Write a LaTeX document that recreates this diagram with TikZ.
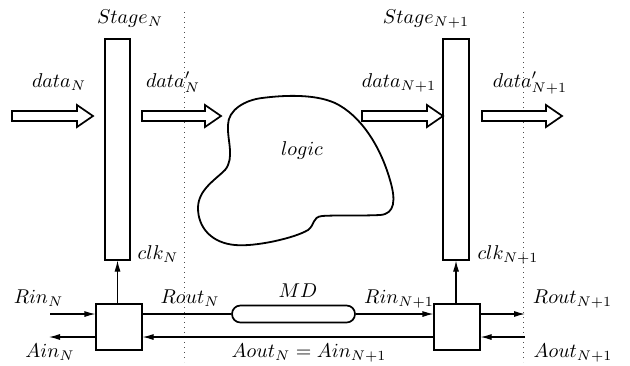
\documentclass[tikz,border=0pt]{standalone}
\usetikzlibrary{arrows.meta}
\tikzset{
  box/.style={draw, line width=0.55pt, inner sep=0pt, minimum width=#1},
  ctl/.style={draw, line width=0.55pt, inner sep=0pt, minimum width=23pt, minimum height=23pt},
  conn/.style={line width=0.55pt, -{Latex[length=5.5pt,width=3pt]}},
  plainconn/.style={line width=0.55pt},
  lbl/.style={inner sep=0pt, anchor=base},
  sep/.style={dotted, line width=0.5pt, black!70},
  barrow/.style={draw, line width=0.85pt, line join=miter, fill=white},
  blob/.style={draw, line width=0.9pt},
}
\newcommand\blockarr[3]{% x1, x2, y
  \draw[barrow] (#1,#3-5) -- (#2-16,#3-5) -- (#2-16,#3-11) -- (#2,#3) -- (#2-16,#3+11) -- (#2-16,#3+5) -- (#1,#3+5) -- cycle;}
\begin{document}
\begin{tikzpicture}[x=0.5pt,y=-0.5pt]
\useasboundingbox (0,0) rectangle (630,365);

% separators
\coordinate (s1t) at (184,12); \coordinate (s1b) at (184,362);
\coordinate (s2t) at (523,12); \coordinate (s2b) at (523,362);
\draw[sep] (s1t) -- (s1b);
\draw[sep] (s2t) -- (s2b);

% stage registers
\node[box=12.5pt, minimum height=110.5pt] (stageN) at (117.5,149.5) {};
\node[box=13pt, minimum height=110.5pt] (stageN1) at (456,149.5) {};

% control boxes
\node[ctl] (ctlN) at (119,327) {};
\node[ctl] (ctlN1) at (457,327) {};

% matched delay
\node[draw, line width=0.85pt, inner sep=0pt, minimum width=61.5pt, minimum height=8.5pt, rounded corners=4.2pt] (md) at (293.5,314) {};

% block arrows
\blockarr{12}{93}{116}
\blockarr{142}{221}{116}
\blockarr{362}{443}{116}
\blockarr{482}{562}{116}

% logic cloud
\draw[blob] (228,125) .. controls (228,110) and (245,100) .. (262,98)
  .. controls (285,95) and (315,94) .. (335,103)
  .. controls (360,115) and (380,145) .. (390,180)
  .. controls (396,200) and (395,214) .. (380,215)
  .. controls (360,216) and (335,215) .. (322,216)
  .. controls (312,217) and (315,225) .. (308,230)
  .. controls (295,238) and (255,247) .. (235,245)
  .. controls (212,243) and (198,228) .. (198,208)
  .. controls (198,190) and (215,180) .. (225,170)
  .. controls (235,158) and (227,140) .. (228,125) -- cycle;

% clock arrows
\draw[conn] (stageN.south |- ctlN.north) -- (stageN.south);
\draw[conn] (stageN1.south |- ctlN1.north) -- (stageN1.south);

% handshake
\coordinate (rinN) at (50,314);
\coordinate (ainN) at (49,337);
\coordinate (routN1) at (525,314);
\coordinate (aoutN1) at (525,337);
\draw[conn] (rinN) -- (rinN -| ctlN.west);
\draw[conn] (ainN -| ctlN.west) -- (ainN);
\draw[plainconn] (ctlN.east |- md.west) -- (md.west);
\draw[conn] (md.east) -- (md.east -| ctlN1.west);
\draw[conn] (ctlN1.west |- ainN) -- (ctlN.east |- ainN);
\draw[conn] (ctlN1.east |- routN1) -- (routN1);
\draw[conn] (aoutN1) -- (aoutN1 -| ctlN1.east);

% labels
\node[lbl] (lStageN) at (130,23) {$Stage_N$};
\node[lbl] (lStageN1) at (426,23) {$Stage_{N+1}$};
\node[lbl] (ldataN) at (59,87) {$data_N$};
\node[lbl] (ldatapN) at (173,87) {$data'_N$};
\node[lbl] (ldataN1) at (399,87) {$data_{N+1}$};
\node[lbl] (ldatapN1) at (530,87) {$data'_{N+1}$};
\node[lbl] (llogic) at (302,155) {$logic$};
\node[lbl] (lclkN) at (158,259) {$clk_N$};
\node[lbl] (lclkN1) at (508,259) {$clk_{N+1}$};
\node[lbl] (lRinN) at (38.5,303) {$Rin_N$};
\node[lbl] (lAinN) at (50,357) {$Ain_N$};
\node[lbl] (lRoutN) at (190,303) {$Rout_N$};
\node[lbl] (lMD) at (298,297) {$MD$};
\node[lbl] (lRinN1) at (399,303) {$Rin_{N+1}$};
\node[lbl] (lAout) at (309,357) {$Aout_N = Ain_{N+1}$};
\node[lbl] (lRoutN1) at (572.5,303) {$Rout_{N+1}$};
\node[lbl] (lAoutN1) at (573,357) {$Aout_{N+1}$};
\end{tikzpicture}
\end{document}
